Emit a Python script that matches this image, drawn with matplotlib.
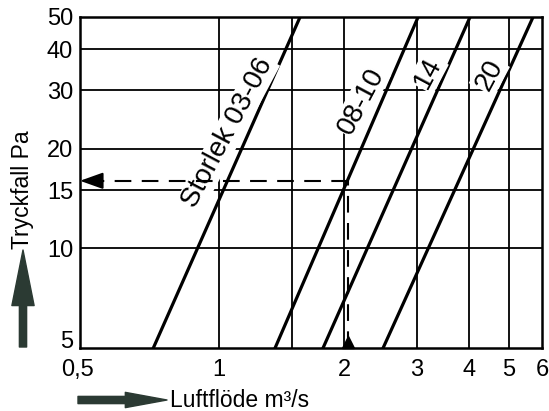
import matplotlib
matplotlib.use('Agg')
import matplotlib.pyplot as plt
import matplotlib.transforms as mtransforms
from matplotlib.patches import FancyArrowPatch

plt.rcParams['font.family'] = ['Liberation Sans', 'DejaVu Sans']

# Storlekar och deras linjer (luftflöde vid 5 Pa och vid 50 Pa)
storlekar = ['Storlek 03-06', '08-10', '14', '20']
flode_vid_5pa = [0.694, 1.364, 1.780, 2.484]
flode_vid_50pa = [1.567, 3.017, 4.025, 5.71]
tryck_granser = [5, 50]

# Exempel: avläsning vid 2 m3/s
exempel_flode = 2.05
exempel_tryck = 16

x_ticks = [0.5, 1, 2, 3, 4, 5, 6]
x_ticklabels = ['0,5', '1', '2', '3', '4', '5', '6']
y_ticks = [5, 10, 15, 20, 30, 40, 50]
y_ticklabels = ['5', '10', '15', '20', '30', '40', '50']
x_grid = [1, 1.5, 2, 3, 4, 5]
y_grid = [10, 15, 20, 30, 40]

# placering av etiketterna längs linjerna
etikett_x = [1.05, 2.2, 3.19, 4.48]
etikett_y = [22.3, 27.9, 33.9, 33.4]

W, H = 549, 411
fig = plt.figure(figsize=(W / 100, H / 100), dpi=100)
ax = fig.add_axes([80 / W, 1 - 348 / H, (542 - 80) / W, (348 - 17) / H])
ax.set_xscale('log')
ax.set_yscale('log')
xmin = 0.462
ax.set_xlim(xmin, 6)
ax.set_ylim(5, 50)

for x in x_grid:
    ax.axvline(x, color='black', lw=1.3, zorder=1)
for y in y_grid:
    ax.axhline(y, color='black', lw=1.3, zorder=1)

ax.set_xticks(x_ticks)
ax.set_xticklabels(x_ticklabels)
ax.set_yticks(y_ticks)
ax.set_yticklabels(y_ticklabels)
ax.minorticks_off()
ax.tick_params(length=0, labelsize=17)
ax.tick_params(axis='x', pad=8)
ax.tick_params(axis='y', pad=5)
ax.get_xticklabels()[0].set_horizontalalignment('right')
ax.get_yticklabels()[0].set_verticalalignment('baseline')
for s in ax.spines.values():
    s.set_linewidth(1.8)

for lo, hi in zip(flode_vid_5pa, flode_vid_50pa):
    ax.plot([lo, hi], tryck_granser, color='black', lw=2.3, zorder=3)

for namn, tx, ty in zip(storlekar, etikett_x, etikett_y):
    ax.text(tx, ty, namn, rotation=62, ha='center', va='center', rotation_mode='anchor',
            fontsize=20, zorder=4, bbox=dict(fc='white', ec='none', pad=1))

# streckad avläsningslinje
ax.plot([exempel_flode, exempel_flode], [5, exempel_tryck], color='black', lw=1.5,
        dashes=(8, 5), zorder=5)
ax.plot([exempel_flode, xmin], [exempel_tryck, exempel_tryck], color='black', lw=1.5,
        dashes=(8, 5), zorder=5)
ax.annotate('', xy=(xmin, exempel_tryck), xytext=(15, 0), textcoords='offset points',
            arrowprops=dict(arrowstyle='-|>,head_length=1.4,head_width=0.5', color='black',
                            lw=1.5, shrinkA=0, shrinkB=0), annotation_clip=False, zorder=6)
upp = mtransforms.offset_copy(ax.transData, fig=fig, y=4, units='points')
ax.plot(exempel_flode, 5, marker='^', ms=9, color='black', transform=upp, clip_on=False, zorder=6)

# axeltexter med pilar
pilfarg = '#2b3a33'
fig.text(22 / W, 1 - 190 / H, 'Tryckfall Pa', rotation=90, ha='center', va='center', fontsize=16.5)
fig.text(170 / W, 1 - 400 / H, 'Luftflöde m³/s', ha='left', va='center', fontsize=16.5)
fig.patches.append(FancyArrowPatch((23 / W, 1 - 347 / H), (23 / W, 1 - 250 / H),
                                   transform=fig.transFigure, color=pilfarg, mutation_scale=20,
                                   arrowstyle='simple,head_length=2.0,head_width=0.8,tail_width=0.26',
                                   shrinkA=0, shrinkB=0))
fig.patches.append(FancyArrowPatch((78 / W, 1 - 400 / H), (167 / W, 1 - 400 / H),
                                   transform=fig.transFigure, color=pilfarg, mutation_scale=20,
                                   arrowstyle='simple,head_length=1.5,head_width=0.55,tail_width=0.26',
                                   shrinkA=0, shrinkB=0))

fig.savefig('out.png', dpi=100)
